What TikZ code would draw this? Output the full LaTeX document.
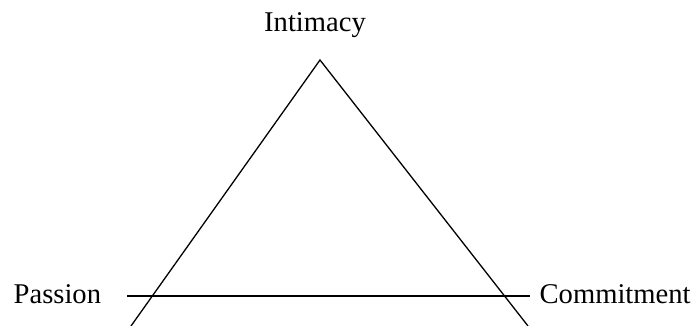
\documentclass[tikz,border=0pt]{standalone}
\usepackage{fontspec}
\setmainfont{Liberation Serif}
\begin{document}
\begin{tikzpicture}[x=0.5pt, y=-0.5pt, line width=0.65pt,
      lbl/.style={inner sep=0pt, font=\fontsize{14.3}{16}\selectfont}]
    % pixel coordinates of the 695x326 reference, y pointing down
    \useasboundingbox (0,0) rectangle (695,326);
    \node[lbl, anchor=base] (intimacy) at (315,32) {Intimacy};
    \node[lbl, anchor=base west] (passion) at (13,303) {Passion};
    \node[lbl, anchor=base west] (commitment) at (539,303) {Commitment};
    \coordinate (apex) at (320,60);
    \coordinate (leftfoot) at (131,326);
    \coordinate (rightfoot) at (528,326);
    \coordinate (lineleft) at (127,296);
    \coordinate (lineright) at (530,296);
    \draw (leftfoot) -- (apex) -- (rightfoot);
    \draw (lineleft) -- (lineright);
  \end{tikzpicture}
\end{document}
